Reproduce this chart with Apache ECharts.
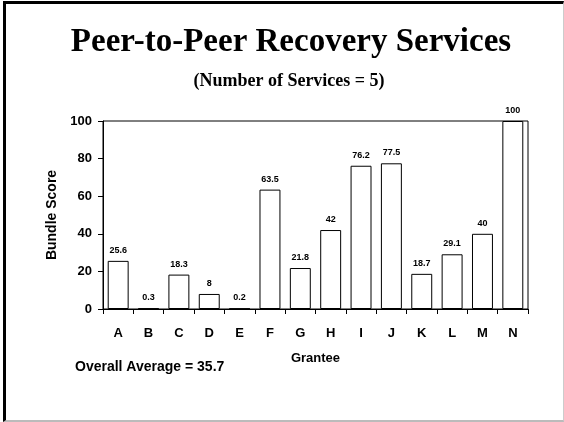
<!DOCTYPE html>
<html>
<head>
<meta charset="utf-8">
<script src="https://cdn.jsdelivr.net/npm/echarts@6/dist/echarts.min.js"></script>
<style>
  html, body { margin: 0; padding: 0; background: #fff; }
  #frame { position: absolute; left: 3px; top: 1px; width: 561px; height: 421px; box-sizing: border-box;
           border-left: 3px solid #000; border-top: 3px solid #000; border-right: 1px solid #ccc; border-bottom: 2px solid #bbb; }
  #chart { position: absolute; left: 0; top: 0; width: 564px; height: 422px; }
</style>
</head>
<body>
<div id="frame"></div>
<div id="chart"></div>
<script>
// Grantees and their bundle scores
const grantees = ['A', 'B', 'C', 'D', 'E', 'F', 'G', 'H', 'I', 'J', 'K', 'L', 'M', 'N'];
const bundleScores = [25.6, 0.3, 18.3, 8, 0.2, 63.5, 21.8, 42, 76.2, 77.5, 18.7, 29.1, 40, 100];
const overallAverage = 35.7;
const serviceCount = 5;

const chart = echarts.init(document.getElementById('chart'), null, { renderer: 'canvas' });
const sans = 'Liberation Sans, Arial, sans-serif';
const serif = 'Liberation Serif, Times New Roman, serif';

chart.setOption({
  animation: false,
  backgroundColor: 'transparent',
  title: [
    {
      text: 'Peer-to-Peer Recovery Services',
      left: 286, top: 21, textAlign: 'center',
      textStyle: { fontFamily: serif, fontWeight: 'bold', fontSize: 33, color: '#000' }
    },
    {
      text: '(Number of Services = ' + serviceCount + ')',
      left: 284, top: 67, textAlign: 'center',
      textStyle: { fontFamily: serif, fontWeight: 'bold', fontSize: 18, color: '#000' }
    },
    {
      text: 'Overall Average = ' + overallAverage,
      left: 70, top: 355,
      textStyle: { fontFamily: sans, fontWeight: 'bold', fontSize: 14, color: '#000' }
    }
  ],
  grid: {
    left: 103, right: 36, top: 121, bottom: 113,
    show: true, borderColor: '#000', borderWidth: 1, backgroundColor: 'transparent'
  },
  xAxis: {
    type: 'category',
    data: grantees,
    name: 'Grantee',
    nameLocation: 'middle',
    nameGap: 43,
    nameTextStyle: { fontFamily: sans, fontWeight: 'bold', fontSize: 13, color: '#000' },
    axisLine: { lineStyle: { color: '#000', width: 1 } },
    axisTick: { show: true, alignWithLabel: false, length: 5, lineStyle: { color: '#000' } },
    axisLabel: { fontFamily: sans, fontWeight: 'bold', fontSize: 13, color: '#000', margin: 18 }
  },
  yAxis: {
    type: 'value',
    min: 0, max: 100, interval: 20,
    name: 'Bundle Score',
    nameLocation: 'middle',
    nameGap: 44,
    nameTextStyle: { fontFamily: sans, fontWeight: 'bold', fontSize: 14, color: '#000' },
    axisLine: { show: true, lineStyle: { color: '#000', width: 1 } },
    axisTick: { show: true, length: 5, lineStyle: { color: '#000' } },
    axisLabel: { fontFamily: sans, fontWeight: 'bold', fontSize: 13, color: '#000', margin: 11 },
    splitLine: { show: false }
  },
  series: [{
    type: 'bar',
    data: bundleScores,
    barCategoryGap: '31%',
    itemStyle: { color: '#fff', borderColor: '#000', borderWidth: 1 },
    label: {
      show: true, position: 'top', distance: 6,
      fontFamily: sans, fontWeight: 'bold', fontSize: 9, color: '#000'
    }
  }]
});
</script>
</body>
</html>
